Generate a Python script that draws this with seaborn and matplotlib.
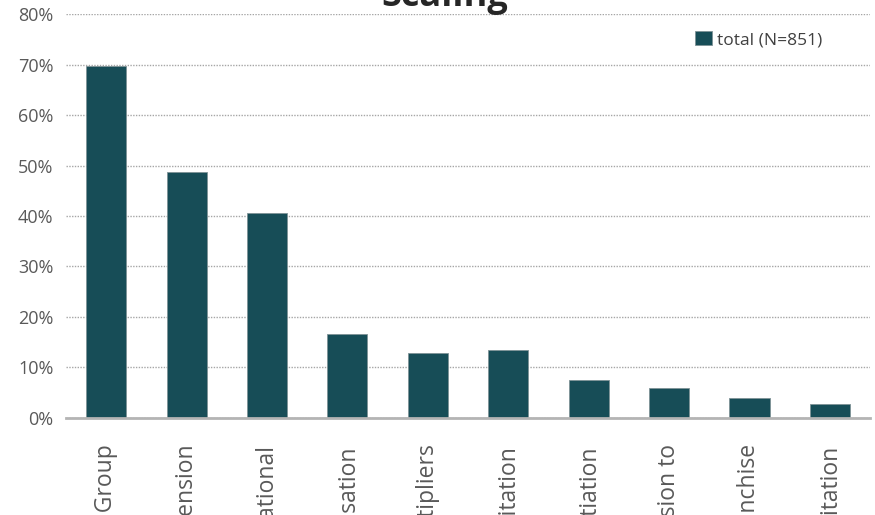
import matplotlib
matplotlib.use("Agg")
import matplotlib.pyplot as plt
import pandas as pd
import seaborn as sns

# Scaling strategies and the share of respondents naming each (in %)
categories = [
    "Expansion of Target Group",
    "Geographical Extension",
    "Organisational",
    "Professionalisation",
    "Training of Multipliers",
    "Imitation",
    "Differentiation",
    "Transmission to",
    "Social Franchise",
    "Facilitation",
]
shares = [69.8, 48.8, 40.6, 16.6, 12.8, 13.5, 7.5, 5.9, 3.9, 2.8]
series_label = "total (N=851)"
y_ticks = [0, 10, 20, 30, 40, 50, 60, 70, 80]
y_tick_labels = [f"{t}%" for t in y_ticks]

BAR = "#174d57"
TEXT = "#595959"

sns.set_theme(style="white")
plt.rcParams["font.family"] = ["Open Sans", "DejaVu Sans"]

fig = plt.figure(figsize=(8.75, 5.15), dpi=100)
ax = fig.add_axes([66 / 875, 97.3 / 515, 804 / 875, 403.4 / 515])

df = pd.DataFrame({"strategy": categories, "share": shares})
sns.barplot(
    data=df, x="strategy", y="share", color=BAR, saturation=1,
    width=0.5, ax=ax, label=series_label,
    edgecolor="#7f9296", linewidth=0.6,
)

ax.set_xlim(-0.5, len(categories) - 0.5)
ax.set_ylim(0, 80)
ax.set_yticks(y_ticks)
ax.set_yticklabels(y_tick_labels)
ax.set_xlabel("")
ax.set_ylabel("")

ax.yaxis.grid(True, linestyle=(0, (1, 1)), color="#a6a6a6", linewidth=1)
ax.set_axisbelow(True)
for side in ["left", "right", "top"]:
    ax.spines[side].set_visible(False)
ax.spines["bottom"].set_color("#b4b4b4")
ax.spines["bottom"].set_linewidth(2)

ax.tick_params(axis="y", length=0, pad=9, labelsize=13, labelcolor=TEXT)
ax.tick_params(axis="x", length=0, pad=19, labelsize=16.5, labelcolor=TEXT,
               labelrotation=90)

fig.text(0.5086, 1 - 6 / 515, "Scaling", ha="center", va="baseline",
         fontsize=26, fontweight="bold", color="#262626")

ax.legend(
    loc="upper left", bbox_to_anchor=(695 / 875, 1 - 31 / 515),
    bbox_transform=fig.transFigure, frameon=False, fontsize=12.5,
    handlelength=0.98, handleheight=0.87, handletextpad=0.3, borderpad=0,
    borderaxespad=0, labelcolor="#404040",
)

fig.savefig("out.png", dpi=100)
